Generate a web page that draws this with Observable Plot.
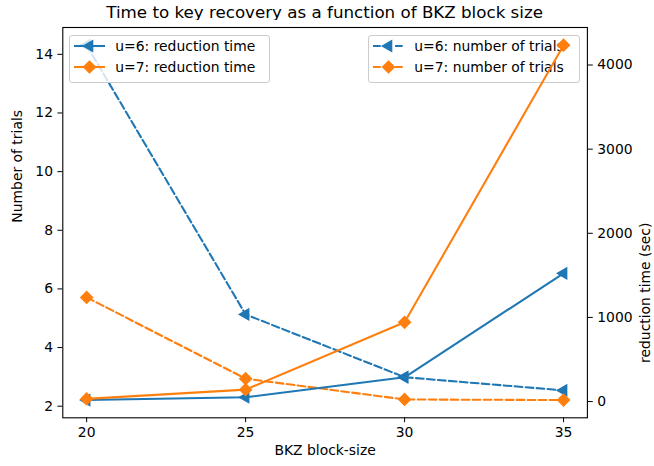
<!DOCTYPE html>
<html><head><meta charset="utf-8">
<script src="https://cdn.jsdelivr.net/npm/d3@7"></script>
<script src="https://cdn.jsdelivr.net/npm/@observablehq/plot@0.6"></script>
<style>
  body { margin:0; background:#fff; font-family:"DejaVu Sans", sans-serif; color:#000; }
  #title { height:20px; line-height:25px; font-size:16.7px; text-align:center; padding-left:62.3px; padding-right:67.1px; white-space:nowrap; overflow:visible; }
  #chart { position:relative; width:654px; height:446px; }
  #chart > svg { position:absolute; left:0; top:0; }
  .legend { position:absolute; box-sizing:border-box; border:1.1px solid #cccccc; border-radius:3px; background:rgba(255,255,255,0.8); font-size:13.9px; }
  .legend .row { position:absolute; left:0; height:20px; width:100%; }
  .legend .row svg { position:absolute; left:4px; top:0; }
  .legend .row span { position:absolute; left:45px; top:0; line-height:20px; white-space:nowrap; }
</style></head><body>
<div id="title">Time to key recovery as a function of BKZ block size</div>
<div id="chart"></div>
<script>
// ---- data ----
const blockSizes = [20, 25, 30, 35];
const trialsU6 = [14.31, 5.13, 2.99, 2.54];
const trialsU7 = [5.71, 2.94, 2.23, 2.21];
const timeU6 = [18, 51, 289, 1524];
const timeU7 = [32, 142, 942, 4235];
const xTicks = [20, 25, 30, 35];
const leftTicks = [2, 4, 6, 8, 10, 12, 14];
const rightTicks = [0, 1000, 2000, 3000, 4000];
const seriesNames = {
  trialsU6: "u=6: number of trials", trialsU7: "u=7: number of trials",
  timeU6: "u=6: reduction time", timeU7: "u=7: reduction time"
};
const blue = "#1f77b4", orange = "#ff7f0e";

function rows(vals) { return blockSizes.map((b, i) => ({b, v: vals[i]})); }
function padded(vals) { const [a, b] = d3.extent(vals); const m = (b - a) * 0.05; return [a - m, b + m]; }

const W = 654, H = 446;
const margins = {marginTop: 7, marginBottom: 48.7, marginLeft: 62.3, marginRight: 67.1};
const xDomain = padded(blockSizes);
const fs = 13.9, lw = 2.08, dash = "7.7,3.3";
const triR = 4.0, diaR = 4.7, mew = 1.39;

const lineOpts = (color, dashed) => ({x: "b", y: "v", stroke: color, strokeWidth: lw, strokeDasharray: dashed ? dash : null, strokeLinejoin: "round"});
const triOpts = {x: "b", y: "v", symbol: "triangle", rotate: -90, r: triR, fill: blue, stroke: blue, strokeWidth: mew};
const diaOpts = {x: "b", y: "v", symbol: "square", rotate: 45, r: diaR, fill: orange, stroke: orange, strokeWidth: mew};

// ---- left axis plot (number of trials, dashed) ----
const plotA = Plot.plot({
  width: W, height: H, ...margins,
  style: {fontFamily: "DejaVu Sans", fontSize: fs + "px", color: "black", background: "white", overflow: "visible"},
  x: {domain: xDomain},
  y: {domain: padded([...trialsU6, ...trialsU7])},
  marks: [
    Plot.axisX({ticks: xTicks, tickSize: 4.9, tickPadding: 4.9, label: null, tickFormat: d3.format("d"), fontSize: fs}),
    Plot.axisY({ticks: leftTicks, tickSize: 4.9, tickPadding: 4.9, label: null, tickFormat: d3.format("d"), fontSize: fs}),
    Plot.text(["BKZ block-size"], {frameAnchor: "bottom", dy: 37, fontSize: fs, fill: "black"}),
    Plot.text(["Number of trials"], {frameAnchor: "left", dx: -44.8, rotate: -90, fontSize: fs, fill: "black"}),
    Plot.line(rows(trialsU6), lineOpts(blue, true)),
    Plot.dot(rows(trialsU6), triOpts),
    Plot.line(rows(trialsU7), lineOpts(orange, true)),
    Plot.dot(rows(trialsU7), diaOpts),
    Plot.frame({stroke: "black", strokeWidth: 1.1})
  ]
});

// ---- right axis plot (reduction time, solid) ----
const plotB = Plot.plot({
  width: W, height: H, ...margins,
  style: {fontFamily: "DejaVu Sans", fontSize: fs + "px", color: "black", background: "transparent", overflow: "visible", pointerEvents: "none"},
  x: {domain: xDomain, axis: null},
  y: {domain: padded([...timeU6, ...timeU7])},
  marks: [
    Plot.axisY({anchor: "right", ticks: rightTicks, tickSize: 4.9, tickPadding: 4.9, label: null, tickFormat: d3.format("d"), fontSize: fs}),
    Plot.text(["reduction time (sec)"], {frameAnchor: "right", dx: 58.1, rotate: -90, fontSize: fs, fill: "black"}),
    Plot.line(rows(timeU6), lineOpts(blue, false)),
    Plot.dot(rows(timeU6), triOpts),
    Plot.line(rows(timeU7), lineOpts(orange, false)),
    Plot.dot(rows(timeU7), diaOpts)
  ]
});

// ---- legends ----
function handleSvg(color, symbol, dashed) {
  const w = 31, h = 20;
  const isTri = symbol === "triangle";
  const r = isTri ? triR : diaR;
  const path = d3.symbol(isTri ? d3.symbolTriangle : d3.symbolSquare, Math.PI * r * r)();
  const rot = isTri ? -90 : 45;
  return `<svg width="${w}" height="${h}" style="overflow:visible">
    <line x1="0" y1="${h/2}" x2="${w}" y2="${h/2}" stroke="${color}" stroke-width="${lw}" ${dashed ? `stroke-dasharray="${dash}"` : ""}/>
    <path d="${path}" transform="translate(${w/2},${h/2}) rotate(${rot})" fill="${color}" stroke="${color}" stroke-width="${mew}"/>
  </svg>`;
}
function legend(left, top, width, items) {
  const div = document.createElement("div");
  div.className = "legend";
  div.style.left = left + "px"; div.style.top = top + "px";
  div.style.width = width + "px"; div.style.height = "48px";
  items.forEach((it, i) => {
    const row = document.createElement("div");
    row.className = "row";
    row.style.top = (i === 0 ? 0 : 21.6) + "px";
    row.innerHTML = handleSvg(it.color, it.symbol, it.dashed) + `<span>${it.label}</span>`;
    div.appendChild(row);
  });
  return div;
}
const legLeft = legend(69.3, 14.7, 200.7, [
  {color: blue, symbol: "triangle", dashed: false, label: seriesNames.timeU6},
  {color: orange, symbol: "diamond", dashed: false, label: seriesNames.timeU7}
]);
const legRight = legend(368.3, 14.7, 211.6, [
  {color: blue, symbol: "triangle", dashed: true, label: seriesNames.trialsU6},
  {color: orange, symbol: "diamond", dashed: true, label: seriesNames.trialsU7}
]);

const chart = document.getElementById("chart");
chart.appendChild(plotA);
chart.appendChild(legLeft);
chart.appendChild(legRight);
chart.appendChild(plotB);
</script>
</body></html>
